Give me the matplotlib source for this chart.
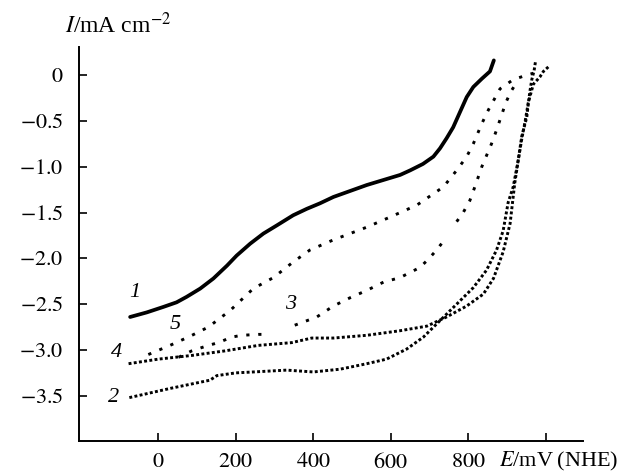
import matplotlib
matplotlib.use("Agg")
import matplotlib.pyplot as plt

# polarisation curves, E in mV (NHE), I in mA/cm2
E1 = [-73, -30, 13, 47, 73, 108, 142, 177, 202, 237, 271, 306, 348, 383, 417, 452, 538, 624,
      650, 683, 710, 727, 744, 761, 779, 796, 813, 835, 856, 866]
I1 = [-2.64, -2.59, -2.53, -2.48, -2.42, -2.33, -2.22, -2.08, -1.97, -1.84, -1.73, -1.64, -1.53, -1.46, -1.40, -1.33, -1.20, -1.09,
      -1.04, -0.97, -0.89, -0.80, -0.69, -0.57, -0.40, -0.24, -0.13, -0.04, 0.04, 0.16]

E2 = [-75, 30, 133, 151, 200, 245, 331, 400, 469, 538, 589, 641, 684, 727, 770, 813, 847, 873, 890,
      903, 916, 929, 938, 951, 955, 959, 964, 970, 974]
I2 = [-3.52, -3.42, -3.33, -3.28, -3.25, -3.24, -3.22, -3.24, -3.21, -3.15, -3.10, -2.99, -2.86, -2.68, -2.50, -2.32, -2.13, -1.91, -1.70,
      -1.39, -1.22, -0.93, -0.67, -0.46, -0.31, -0.18, -0.05, 0.05, 0.16]

# curve 3 is recorded in three pieces
E3a = [52, 86, 129, 155, 189, 215, 258, 275]
I3a = [-3.08, -3.01, -2.95, -2.92, -2.86, -2.84, -2.83, -2.83]
E3b = [352, 409, 452, 495, 538, 581, 624, 675, 697, 718, 731]
I3b = [-2.73, -2.64, -2.52, -2.43, -2.35, -2.26, -2.21, -2.10, -2.01, -1.91, -1.84]
E3c = [770, 787, 804, 817, 835, 847, 860, 873, 885, 897, 910, 925]
I3c = [-1.60, -1.50, -1.37, -1.22, -1.00, -0.88, -0.75, -0.60, -0.45, -0.30, -0.18, -0.08]

E4 = [-77, 0, 86, 172, 258, 344, 396, 452, 538, 624, 693, 744, 796, 839, 865, 890, 908, 920,
      929, 938, 947, 955, 968, 985, 994, 1007]
I4 = [-3.15, -3.10, -3.06, -3.01, -2.95, -2.92, -2.87, -2.87, -2.84, -2.79, -2.74, -2.64, -2.52, -2.39, -2.22, -1.93, -1.62, -1.18,
      -0.93, -0.70, -0.50, -0.30, -0.10, -0.02, 0.04, 0.09]

E5 = [-26, 30, 82, 129, 185, 245, 297, 348, 391, 451, 538, 598, 667, 736, 770, 796, 813, 835, 852, 882, 916, 951, 968]
I5 = [-3.05, -2.95, -2.85, -2.75, -2.57, -2.33, -2.21, -2.04, -1.91, -1.80, -1.66, -1.55, -1.42, -1.22, -1.04, -0.89, -0.75, -0.53, -0.38, -0.15, -0.05, 0.0, 0.02]

curve_labels = ["1", "2", "3", "4", "5"]
label_E = [-60, -116, 340, -107, 43]
label_I = [-2.37, -3.52, -2.50, -3.03, -2.72]

xticks = [0, 200, 400, 600, 800, 1000]
xticklabels = ["$0$", "$200$", "$400$", "$600$", "$800$", ""]
yticks = [0, -0.5, -1.0, -1.5, -2.0, -2.5, -3.0, -3.5]
yticklabels = ["$0$", "$-0.5$", "$-1.0$", "$-1.5$", "$-2.0$", "$-2.5$", "$-3.0$", "$-3.5$"]

plt.rcParams["font.family"] = "Liberation Serif"
plt.rcParams["mathtext.fontset"] = "stix"
plt.rcParams["font.size"] = 16

fig = plt.figure(figsize=(6.35, 4.74), dpi=100)
ax = fig.add_axes([0.1244, 0.0703, 0.7942, 0.8305])

dense = (0, (1, 0.8))
sparse = (0, (1.1, 3))

ax.plot(E1, I1, color="black", lw=2.7, solid_capstyle="round", solid_joinstyle="round")
ax.plot(E2, I2, color="black", lw=2.1, linestyle=dense)
for e, i in [(E3a, I3a), (E3b, I3b), (E3c, I3c)]:
    ax.plot(e, i, color="black", lw=2.1, linestyle=sparse)
ax.plot(E4, I4, color="black", lw=2.1, linestyle=dense)
ax.plot(E5, I5, color="black", lw=2.1, linestyle=sparse)

for lab, x, y in zip(curve_labels, label_E, label_I):
    ax.text(x, y, lab, fontstyle="italic", fontsize=16, ha="center", va="center")

ax.set_xlim(-205, 1097)
ax.set_ylim(-3.99, 0.306)

ax.spines["top"].set_visible(False)
ax.spines["right"].set_visible(False)
ax.spines["left"].set_linewidth(1.4)
ax.spines["bottom"].set_linewidth(1.4)

ax.set_xticks(xticks)
ax.set_xticklabels(xticklabels)
ax.set_yticks(yticks)
ax.set_yticklabels(yticklabels)
ax.tick_params(direction="in", length=6, width=1.2, labelsize=16)
ax.tick_params(axis="y", pad=11)
ax.tick_params(axis="x", pad=9)

ax.text(-0.028, 1.036, r"$I$/mA cm$^{-2}$", transform=ax.transAxes, ha="left", va="baseline", fontsize=17)
ax.text(0.833, -0.066, "$E$/mV\u2009(NHE)", transform=ax.transAxes, ha="left", va="baseline", fontsize=16)

fig.savefig("out.png", dpi=100)
